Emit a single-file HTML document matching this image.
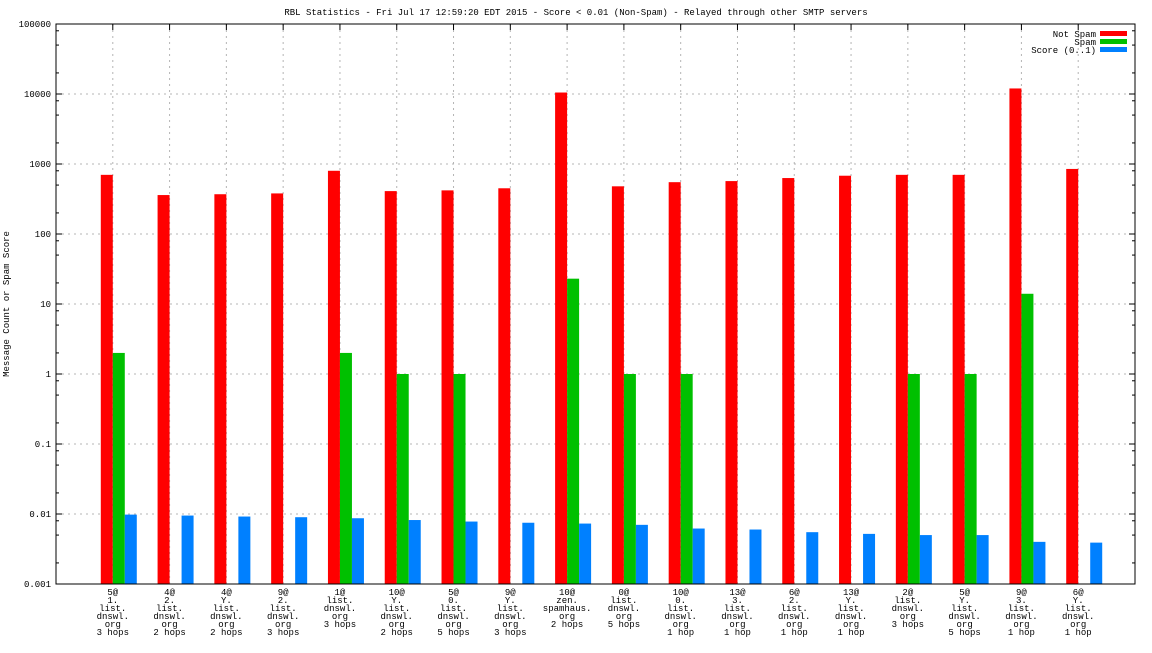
<!DOCTYPE html>
<html><head><meta charset="utf-8"><style>
body{margin:0;background:#fff}
svg text{font-family:"Liberation Mono",monospace;font-size:9px;fill:#000}
</style></head><body>
<svg id="c" width="1152" height="648" xmlns="http://www.w3.org/2000/svg"></svg>
<script>
const categories=[["5@","1.","list.","dnswl.","org","3 hops"],["4@","2.","list.","dnswl.","org","2 hops"],["4@","Y.","list.","dnswl.","org","2 hops"],["9@","2.","list.","dnswl.","org","3 hops"],["1@","list.","dnswl.","org","3 hops"],["10@","Y.","list.","dnswl.","org","2 hops"],["5@","0.","list.","dnswl.","org","5 hops"],["9@","Y.","list.","dnswl.","org","3 hops"],["10@","zen.","spamhaus.","org","2 hops"],["0@","list.","dnswl.","org","5 hops"],["10@","0.","list.","dnswl.","org","1 hop"],["13@","3.","list.","dnswl.","org","1 hop"],["6@","2.","list.","dnswl.","org","1 hop"],["13@","Y.","list.","dnswl.","org","1 hop"],["2@","list.","dnswl.","org","3 hops"],["5@","Y.","list.","dnswl.","org","5 hops"],["9@","3.","list.","dnswl.","org","1 hop"],["6@","Y.","list.","dnswl.","org","1 hop"]];
const notSpam=[700,360,370,380,800,410,420,450,10500,480,550,570,630,680,700,700,12000,850];
const spam=[2,0,0,0,2,1,1,0,23,1,1,0,0,0,1,1,14,0];
const score=[0.0098,0.0095,0.0092,0.009,0.0087,0.0082,0.0078,0.0075,0.0073,0.007,0.0062,0.006,0.0055,0.0052,0.005,0.005,0.004,0.0039];
const yTicks=[0.001,0.01,0.1,1,10,100,1000,10000,100000];
const yTickLabels=["0.001","0.01","0.1","1","10","100","1000","10000","100000"];
const L=56,R=1135,T=24,B=584;
const svg=document.getElementById('c');const NS="http://www.w3.org/2000/svg";
function el(t,a,p){const e=document.createElementNS(NS,t);for(const k in a)e.setAttribute(k,a[k]);(p||svg).appendChild(e);return e;}
const y=v=>B-(Math.log10(v)+3)*(B-T)/8;
const x=i=>L+(i+1)*(R-L)/(categories.length+1);
let e;
e=el('text',{x:576,y:15,'text-anchor':'middle'});e.textContent="RBL Statistics - Fri Jul 17 12:59:20 EDT 2015 - Score < 0.01 (Non-Spam) - Relayed through other SMTP servers";


e=el('text',{x:9,y:304,'text-anchor':'middle',transform:'rotate(-90 9 304)'});e.textContent="Message Count or Spam Score";


yTicks.forEach((v,i)=>{const yy=y(v);
 if(i>0&&i<yTicks.length-1)el('line',{x1:L,x2:R,y1:yy,y2:yy,stroke:'#b4b4b4','stroke-dasharray':'2,4'});
 el('line',{x1:L,x2:L+6,y1:yy,y2:yy,stroke:'#000'});el('line',{x1:R,x2:R-6,y1:yy,y2:yy,stroke:'#000'});
 if(i<yTicks.length-1)[2,5,8].forEach(m=>{const my=y(v*m);el('line',{x1:L,x2:L+3,y1:my,y2:my,stroke:'#000'});el('line',{x1:R,x2:R-3,y1:my,y2:my,stroke:'#000'});});
 const t=el('text',{x:L-5,y:yy+3,'text-anchor':'end'});t.textContent=yTickLabels[i];
 
 
});
categories.forEach((c,i)=>{const cx=x(i);
 el('line',{x1:cx,x2:cx,y1:T,y2:B,stroke:'#b4b4b4','stroke-dasharray':'2,4'});
 el('line',{x1:cx,x2:cx,y1:T,y2:T+6,stroke:'#000'});
 c.forEach((s,j)=>{const t=el('text',{x:cx,y:B+11+j*8,'text-anchor':'middle'});t.textContent=s;
  
  });
 [[notSpam,'#ff0000',-12,'bar-not-spam'],[spam,'#00c000',0,'bar-spam'],[score,'#0080ff',12,'bar-score']].forEach(([arr,col,off,nm])=>{
  const v=arr[i];if(!(v>0.001))return;const yy=y(v);
  const r=el('rect',{x:cx+off,y:yy,width:12,height:B-yy,fill:col});
  
  
 });
});
el('rect',{x:L,y:T,width:R-L,height:B-T,fill:'none',stroke:'#000'});
[["Not Spam","#ff0000"],["Spam","#00c000"],["Score (0..1)","#0080ff"]].forEach(([n,c],i)=>{
 const t=el('text',{x:1096,y:37+i*8,'text-anchor':'end'});t.textContent=n;
 
 
 const r=el('rect',{x:1100,y:31+i*8,width:27,height:5,fill:c});
 
 
});
</script>
</body></html>
